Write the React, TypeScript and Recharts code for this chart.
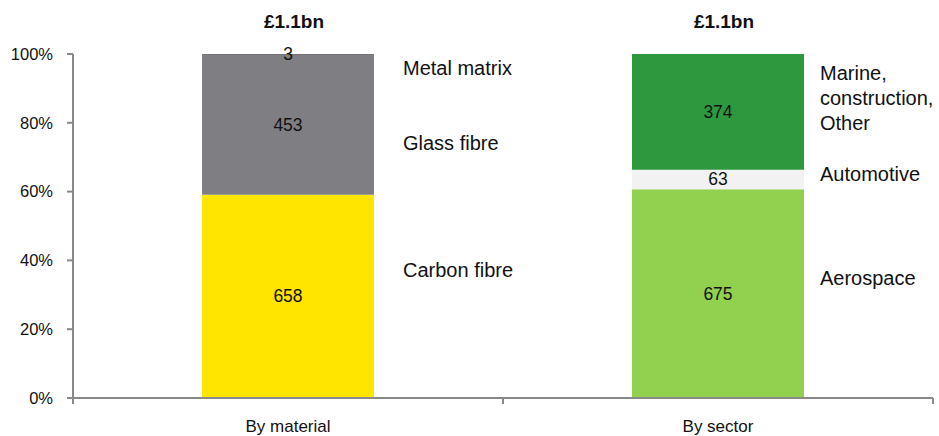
import { Bar, BarChart, Cell, LabelList, XAxis, YAxis } from 'recharts';

const categories = ['By material', 'By sector'];
const totals = ['£1.1bn', '£1.1bn'];

const bottomValues = [658, 675];
const middleValues = [453, 63];
const topValues = [3, 374];

const bottomNames = ['Carbon fibre', 'Aerospace'];
const middleNames = ['Glass fibre', 'Automotive'];
const topNames = ['Metal matrix', 'Marine,\nconstruction,\nOther'];

const yTicks = [0, 0.2, 0.4, 0.6, 0.8, 1];

const data = categories.map((name, i) => ({
  name,
  bottom: bottomValues[i],
  middle: middleValues[i],
  top: topValues[i],
}));

const bottomColors = ['#FFE500', '#92D050'];
const middleColors = ['#7F7F83', '#F2F2F2'];
const topColors = ['#737377', '#2E983E'];

const FONT = '"Liberation Sans", Arial, sans-serif';
const AXIS = '#898989';
const BAND_HALF = 215;

// side label nudges (dx per bar, dy per segment), as placed in the original
const sideDx = [29, 16];
const sideDy = { bottom: [-26, -16], middle: [18, -5], top: [14, -14] };

const ValueLabel = (props: any) => {
  const { x, y, width, height, value } = props;
  if (!value) return null;
  return (
    <text x={x + width / 2} y={y + height / 2} textAnchor="middle" dominantBaseline="central"
      fontSize={17.5} fontFamily={FONT} fill="#111">
      {value}
    </text>
  );
};

const makeSideLabel = (names: string[], dy: number[]) => (props: any) => {
  const { x, y, width, height, index } = props;
  const lines = names[index].split('\n');
  const cy = y + height / 2 + dy[index];
  return (
    <text x={x + width + sideDx[index]} y={cy} fontSize={20} fontFamily={FONT} fill="#111">
      {lines.map((l, i) => (
        <tspan key={i} x={x + width + sideDx[index]} y={cy + (i - (lines.length - 1) / 2) * 25}
          dominantBaseline="central">
          {l}
        </tspan>
      ))}
    </text>
  );
};

const TitleLabel = (props: any) => {
  const { x, y, width, index } = props;
  return (
    <text x={x + width / 2 + 6} y={y - 33} textAnchor="middle" dominantBaseline="central"
      fontSize={19} fontWeight="bold" fontFamily={FONT} fill="#111">
      {totals[index]}
    </text>
  );
};

const CategoryTick = (props: any) => {
  const { x, y, payload, index } = props;
  return (
    <g>
      <line x1={x - BAND_HALF} x2={x - BAND_HALF} y1={y} y2={y + 6} stroke={AXIS} strokeWidth={2} />
      {index === categories.length - 1 && (
        <line x1={x + BAND_HALF} x2={x + BAND_HALF} y1={y} y2={y + 6} stroke={AXIS} strokeWidth={2} />
      )}
      <text x={x} y={y + 34} textAnchor="middle" fontSize={17} fontFamily={FONT} fill="#111">
        {payload.value}
      </text>
    </g>
  );
};

const App = () => (
  <div style={{ position: 'absolute', left: 0, top: 0 }}>
    <BarChart width={939} height={436} data={data} stackOffset="expand" barCategoryGap="30%"
      margin={{ top: 54, right: 6, bottom: 8, left: 13 }}>
      <XAxis dataKey="name" height={30} tickLine={false} tickSize={0} tickMargin={0}
        axisLine={{ stroke: AXIS, strokeWidth: 2 }} tick={<CategoryTick />} interval={0} />
      <YAxis width={60} domain={[0, 1]} ticks={yTicks} tickSize={6} tickMargin={14}
        tickFormatter={(v: number) => `${Math.round(v * 100)}%`}
        axisLine={{ stroke: AXIS, strokeWidth: 2 }} tickLine={{ stroke: AXIS, strokeWidth: 2 }}
        tick={{ fontSize: 16.5, fontFamily: FONT, fill: '#111' }} />
      <Bar dataKey="bottom" stackId="a" isAnimationActive={false}>
        {data.map((_, i) => <Cell key={i} fill={bottomColors[i]} />)}
        <LabelList dataKey="bottom" content={<ValueLabel />} />
        <LabelList dataKey="bottom" content={makeSideLabel(bottomNames, sideDy.bottom)} />
      </Bar>
      <Bar dataKey="middle" stackId="a" isAnimationActive={false}>
        {data.map((_, i) => <Cell key={i} fill={middleColors[i]} />)}
        <LabelList dataKey="middle" content={<ValueLabel />} />
        <LabelList dataKey="middle" content={makeSideLabel(middleNames, sideDy.middle)} />
      </Bar>
      <Bar dataKey="top" stackId="a" isAnimationActive={false}>
        {data.map((_, i) => <Cell key={i} fill={topColors[i]} />)}
        <LabelList dataKey="top" content={<ValueLabel />} />
        <LabelList dataKey="top" content={makeSideLabel(topNames, sideDy.top)} />
        <LabelList dataKey="top" content={<TitleLabel />} />
      </Bar>
    </BarChart>
  </div>
);

export default App;
